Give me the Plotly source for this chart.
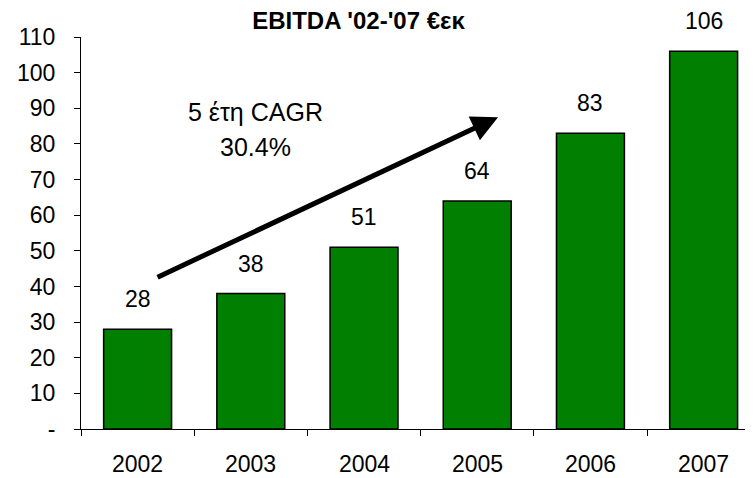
import plotly.graph_objects as go

years = ["2002", "2003", "2004", "2005", "2006", "2007"]
ebitda = [28, 38, 51, 64, 83, 106]
y_tickvals = [0, 10, 20, 30, 40, 50, 60, 70, 80, 90, 100, 110]
y_ticktext = ["-", "10", "20", "30", "40", "50", "60", "70", "80", "90", "100", "110"]
title_text = "EBITDA '02-'07 €εκ"
cagr_lines = ["5 έτη CAGR", "30.4%"]
cagr_pos = [(1.04, 88.9), (1.04, 79.1)]
arrow_tail = (0.163, 42.4)
arrow_head = (3.184, 87.5)

FONT = "Liberation Sans, Arial, sans-serif"
FS = 23
OFF = 8  # page body margin

fig = go.Figure()
fig.add_trace(go.Bar(
    x=list(range(len(years))), y=ebitda, width=0.6,
    marker=dict(color="#007F00", line=dict(color="black", width=1.5)),
    hoverinfo="skip",
))

for i, v in enumerate(ebitda):
    fig.add_annotation(x=i, y=v, text=str(v), showarrow=False,
                       yanchor="middle", yshift=30,
                       font=dict(family=FONT, size=FS, color="black"))

fig.add_annotation(x=arrow_head[0], y=arrow_head[1], ax=arrow_tail[0], ay=arrow_tail[1],
                   xref="x", yref="y", axref="x", ayref="y",
                   text="", showarrow=True, arrowhead=2, arrowsize=1.05,
                   arrowwidth=5, arrowcolor="black", standoff=0, startstandoff=0)

for txt, (cx, cy) in zip(cagr_lines, cagr_pos):
    fig.add_annotation(x=cx, y=cy, text=txt, showarrow=False,
                       font=dict(family=FONT, size=25, color="black"))

fig.update_layout(
    width=753, height=478,
    margin=dict(l=81 - OFF, r=OFF, t=37 - OFF, b=49 + OFF),
    paper_bgcolor="white", plot_bgcolor="white",
    showlegend=False,
    title=dict(text="<b>" + title_text + "</b>", x=(358.5 - OFF) / 753, xanchor="center",
               y=1 - (21 - OFF) / 478, yanchor="middle",
               font=dict(family=FONT, size=24, color="black")),
    font=dict(family=FONT, size=FS, color="black"),
)
fig.update_xaxes(
    range=[-0.5, 5.436],
    tickvals=[i - 0.5 for i in range(len(years) + 1)],
    ticktext=[""] * (len(years) + 1),
    showline=True, linecolor="black", linewidth=1,
    ticks="outside", ticklen=6, tickcolor="black", tickwidth=1,
    showgrid=False, zeroline=False,
)
for i, yr in enumerate(years):
    fig.add_annotation(x=i, y=0, yref="y", text=yr, showarrow=False,
                       yanchor="middle", yshift=-35,
                       font=dict(family=FONT, size=FS, color="black"))
fig.update_yaxes(
    range=[0, 110], tickvals=y_tickvals, ticktext=y_ticktext,
    showline=True, linecolor="black", linewidth=1,
    ticks="outside", ticklen=6, tickcolor="black", tickwidth=1,
    showgrid=False, zeroline=False,
    tickfont=dict(family=FONT, size=FS, color="black"),
    ticklabelstandoff=14,
)

fig.write_html("out.html")
